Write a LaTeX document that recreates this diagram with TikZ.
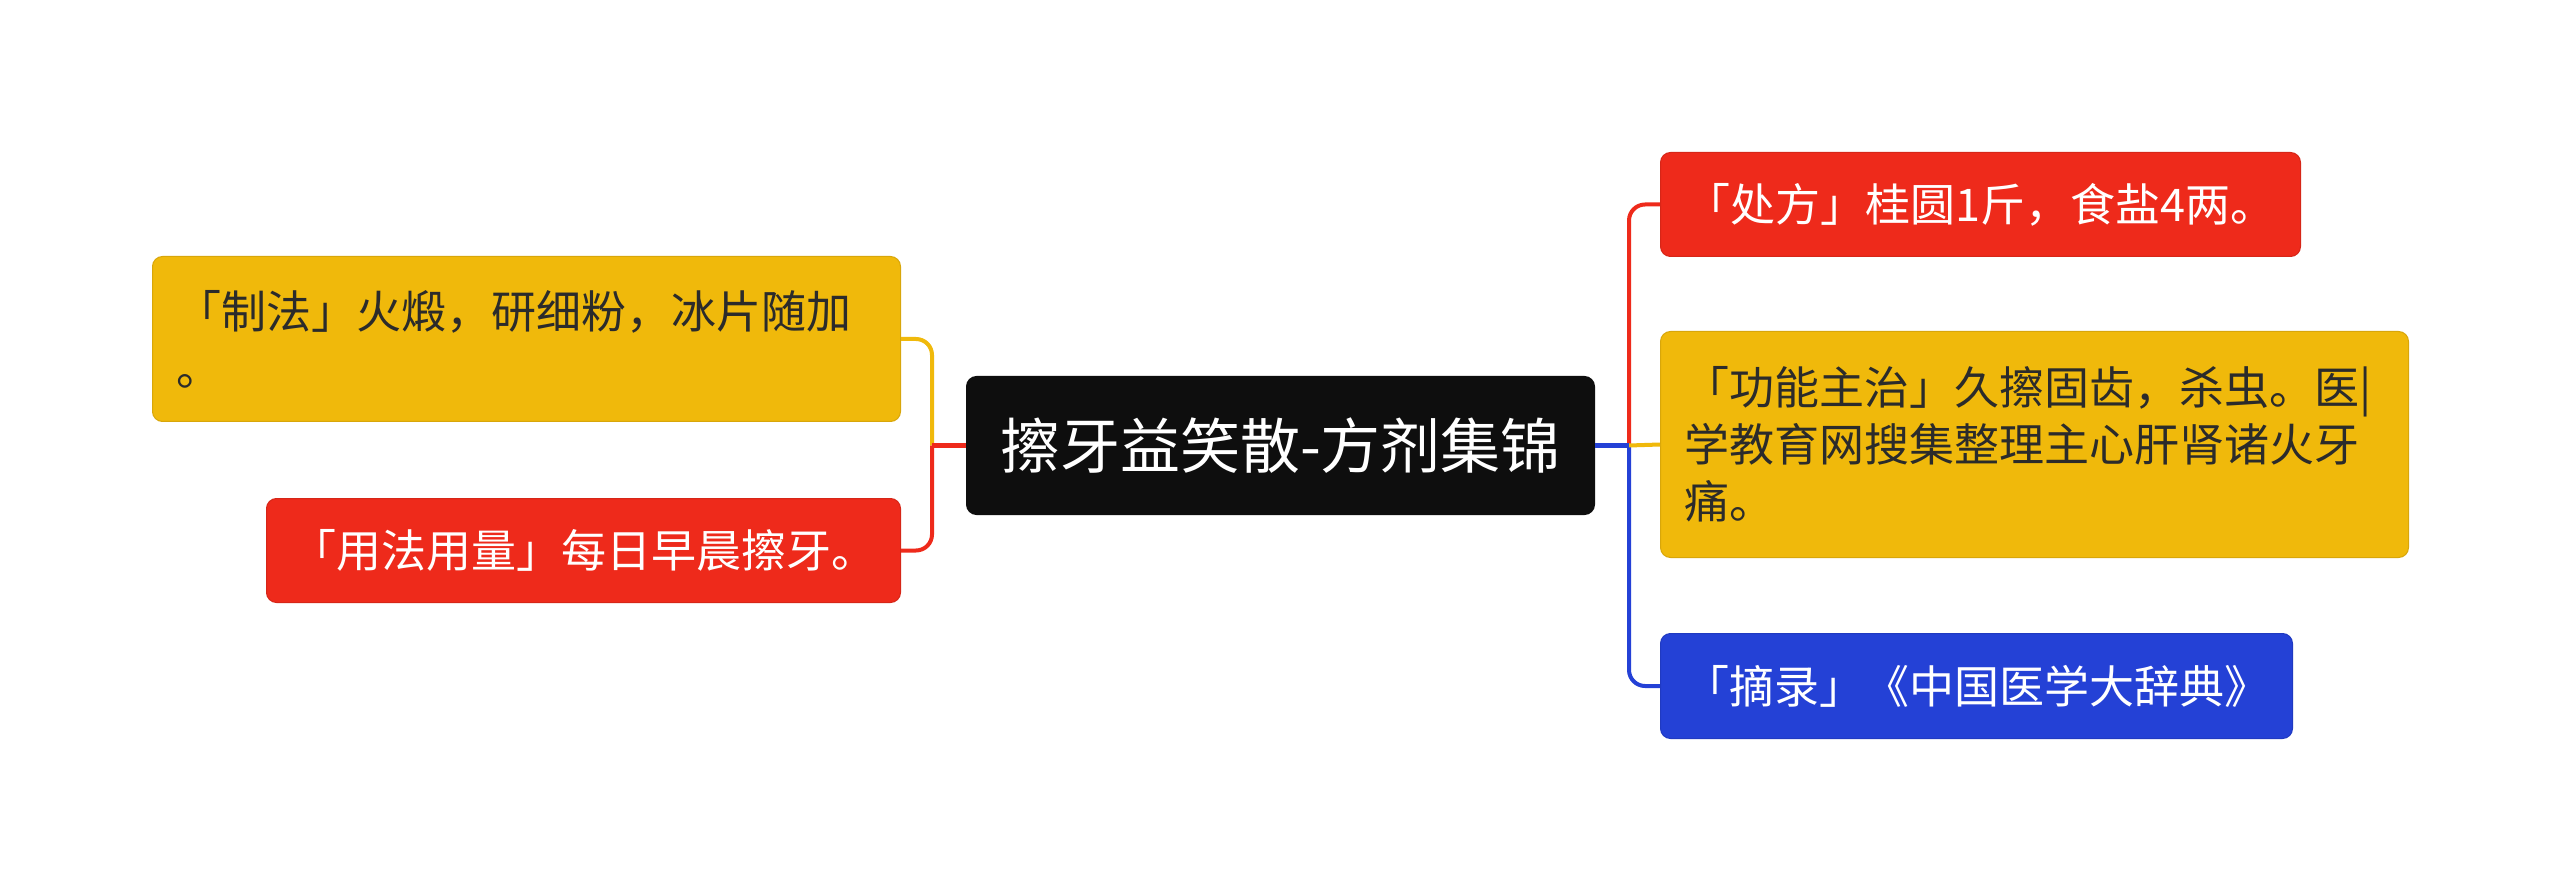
\documentclass[tikz,border=0pt]{standalone}
\usepackage{fontspec}
\setmainfont{Noto Sans CJK SC}
\usetikzlibrary{calc}
\definecolor{myyel}{HTML}{F0B90B}
\definecolor{myred}{HTML}{EE2A1B}
\definecolor{myblue}{HTML}{2441D6}
\definecolor{myblack}{HTML}{0E0E0E}
\definecolor{mytext}{HTML}{2B2B2B}
\begin{document}
\begin{tikzpicture}[x=1pt,y=-1pt,
  box/.style={rounded corners=10pt, inner sep=0pt, anchor=north west, line width=1pt,
    font=\fontsize{45}{57}\selectfont},
  yelbox/.style={box, fill=myyel, draw=myyel!90!black, text=mytext},
  redbox/.style={box, fill=myred, draw=myred!90!black, text=white},
  bluebox/.style={box, fill=myblue, draw=myblue!90!black, text=white},
  rootbox/.style={box, fill=myblack, draw=myblack, text=white, font=\fontsize{60}{70}\selectfont},
  conn/.style={line width=4pt, rounded corners=16pt},
]
\useasboundingbox (0,0) rectangle (2560,890);

\node[rootbox, minimum width=628pt, minimum height=138pt] (c) at (966,376) {擦牙益笑散-方剂集锦};

\node[yelbox, minimum width=748pt, minimum height=165pt, text width=700pt, align=left] (ly) at (152,256)
  {「制法」火煅，研细粉，冰片随加\\。};
\node[redbox, minimum width=634pt, minimum height=104pt] (lr) at (266,498) {「用法用量」每日早晨擦牙。};

\node[redbox, minimum width=640pt, minimum height=104pt] (rr) at (1660,152) {「处方」桂圆1斤，食盐4两。};
\node[yelbox, minimum width=748pt, minimum height=226pt, text width=700pt, align=left] (ry) at (1660,331)
  {「功能主治」久擦固齿，杀虫。医\textbar\\学教育网搜集整理主心肝肾诸火牙\\痛。};
\node[bluebox, minimum width=632pt, minimum height=105pt] (rb) at (1660,633) {「摘录」《中国医学大辞典》};

\coordinate (lj) at ($(c.west)+(-34,0)$);
\coordinate (rj) at ($(c.east)+(34,0)$);

\draw[conn, myyel] (lj) |- (ly.east);
\draw[conn, myred] (lj) |- (lr.east);
\draw[conn, myred] (c.west) -- (lj);

\draw[conn, myred] (rj) |- (rr.west);
\draw[conn, myblue] (rj) |- (rb.west);
\draw[conn, myyel] (rj) -- (ry.west);
\draw[conn, myblue] (c.east) -- (rj);
\end{tikzpicture}
\end{document}
